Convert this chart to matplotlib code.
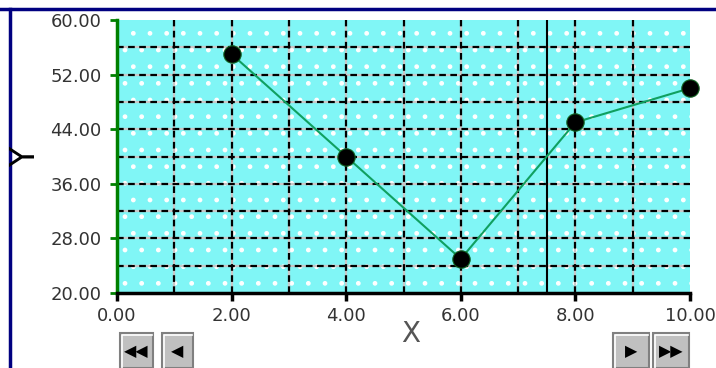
import matplotlib.pyplot as plt
from matplotlib.patches import Rectangle
from matplotlib.lines import Line2D

x_vals = [2, 4, 6, 8, 10]
y_vals = [55, 40, 25, 45, 50]
cursor_x = 7.5

x_ticks = [0, 2, 4, 6, 8, 10]
y_ticks = [20, 28, 36, 44, 52, 60]
x_grid = [1, 2, 3, 4, 5, 6, 7, 8, 9]
y_grid = [24, 28, 32, 36, 40, 44, 48, 52, 56]

W, H = 716, 368
fig = plt.figure(figsize=(W / 100, H / 100), dpi=100)
fig.patch.set_facecolor('white')
ax = fig.add_axes([117 / W, 75 / H, 573 / W, 273 / H])
ax.set_facecolor('#80f6f6')
ax.set_xlim(0, 10)
ax.set_ylim(20, 60)

# dotted white pattern on the cyan background
ax.add_patch(Rectangle((0, 20), 10, 40, facecolor='none', edgecolor='white',
                       hatch='.', linewidth=0, zorder=0.5))

for gx in x_grid:
    ax.axvline(gx, color='#c8c8c8', lw=1.6, zorder=1)
    ax.axvline(gx, color='black', lw=1.6, ls=(0, (3, 2)), zorder=1.1)
for gy in y_grid:
    ax.axhline(gy, color='#c8c8c8', lw=1.6, zorder=1)
    ax.axhline(gy, color='black', lw=1.6, ls=(0, (3, 2)), zorder=1.1)
ax.axvline(cursor_x, color='black', lw=1.5, zorder=2)

ax.plot(x_vals, y_vals, color='#10a060', lw=1.5, zorder=3)
ax.plot(x_vals, y_vals, 'o', color='black', markersize=12.5,
        markeredgecolor='#106020', markeredgewidth=0.8, zorder=4, clip_on=False)

ax.spines['top'].set_visible(False)
ax.spines['right'].set_visible(False)
ax.spines['left'].set_color('green')
ax.spines['left'].set_linewidth(2.5)
ax.spines['bottom'].set_color('black')
ax.spines['bottom'].set_linewidth(2.5)

ax.set_xticks(x_ticks)
ax.set_yticks(y_ticks)
ax.set_xticklabels(['%.2f' % v for v in x_ticks])
ax.set_yticklabels(['%.2f' % v for v in y_ticks])
ax.tick_params(axis='y', colors='green', labelcolor='#333333', length=5, width=2,
               labelsize=13, pad=6)
ax.tick_params(axis='x', colors='black', labelcolor='#333333', length=6, width=2.5,
               labelsize=13, pad=4)

# blue window border
fig.add_artist(Line2D([0, 1], [1 - 8.5 / H, 1 - 8.5 / H], color='#000080', lw=2.5, zorder=0))
fig.add_artist(Line2D([10 / W, 10 / W], [0, 1 - 8.5 / H], color='#000080', lw=2.5, zorder=0))

fig.text(26 / W, 1 - 157 / H, 'Y', fontsize=24, color='black', rotation=90,
         ha='center', va='center', zorder=5)
fig.text(411 / W, 1 - 334 / H, 'X', fontsize=20, color='#555555',
         ha='center', va='center')

# navigation buttons
buttons = [(120, 33, '\u25c0\u25c0'), (162, 31, '\u25c0'),
           (613, 36, '\u25b6'), (653, 36, '\u25b6\u25b6')]
for bx, bw, label in buttons:
    fig.add_artist(Rectangle((bx / W, 0), bw / W, 35 / H, transform=fig.transFigure,
                             facecolor='#c0c0c0', edgecolor='#808080', lw=1.5))
    fig.add_artist(Line2D([(bx + 1.5) / W, (bx + 1.5) / W, (bx + bw - 1.5) / W],
                          [0, 33.5 / H, 33.5 / H], color='white', lw=1.2))
    fig.text((bx + bw / 2) / W, 16 / H, label, fontsize=11.5, color='black',
             ha='center', va='center')

fig.savefig('out.png', dpi=100)
